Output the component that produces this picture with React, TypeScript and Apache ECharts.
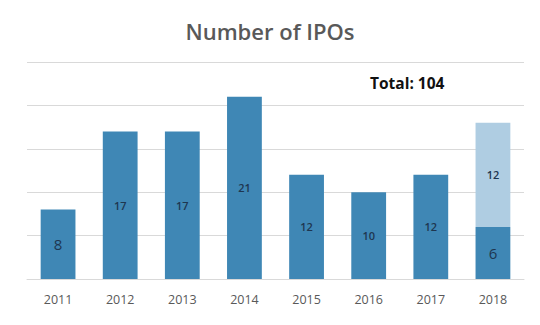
import React, { useEffect, useRef } from "react";
import * as echarts from "echarts";

const years = ["2011", "2012", "2013", "2014", "2015", "2016", "2017", "2018"];
const baseValues = [8, 17, 17, 21, 12, 10, 12, 6];
const extraValues = [null, null, null, null, null, null, null, 12];
const largeLabelYears = ["2011", "2018"];
const totalText = "Total: 104";

export default function App() {
  const ref = useRef<HTMLDivElement>(null);
  useEffect(() => {
    if (!ref.current) return;
    const chart = echarts.init(ref.current, null, { renderer: "svg" });
    const font = "'Open Sans', 'Noto Sans', sans-serif";
    chart.setOption({
      animation: false,
      backgroundColor: "#ffffff",
      title: {
        text: "Number of IPOs",
        left: "center",
        top: 15,
        textStyle: { fontFamily: font, fontSize: 22, fontWeight: 600, color: "#595959" },
      },
      graphic: [
        {
          type: "text",
          left: 370,
          top: 75,
          style: { text: totalText, fontFamily: font, fontSize: 15.5, fontWeight: "bold", fill: "#111111" },
        },
      ],
      grid: { left: 27, right: 16, top: 62, bottom: 46 },
      xAxis: {
        type: "category",
        data: years,
        axisLine: { lineStyle: { color: "#d9d9d9" } },
        axisTick: { show: false },
        axisLabel: { fontFamily: font, fontSize: 12.5, color: "#595959", margin: 14 },
      },
      yAxis: {
        type: "value",
        min: 0,
        max: 25,
        interval: 5,
        axisLabel: { show: false },
        axisLine: { show: false },
        axisTick: { show: false },
        splitLine: { lineStyle: { color: "#d9d9d9" } },
      },
      series: [
        {
          type: "bar",
          stack: "ipo",
          barWidth: "56%",
          data: baseValues.map((v, i) => ({
            value: v,
            label: largeLabelYears.includes(years[i])
              ? { fontSize: 15, fontWeight: "normal" }
              : { fontSize: 11, fontWeight: 600 },
          })),
          itemStyle: { color: "#3f87b5" },
          label: { show: true, position: "inside", color: "#1e3650", fontFamily: font },
        },
        {
          type: "bar",
          stack: "ipo",
          barWidth: "56%",
          data: extraValues,
          itemStyle: { color: "#afcde2" },
          label: { show: true, position: "inside", color: "#1e3650", fontFamily: font, fontSize: 11, fontWeight: 600 },
        },
      ],
    });
    return () => chart.dispose();
  }, []);
  return <div ref={ref} style={{ width: 540, height: 325, position: "absolute", left: 0, top: 0 }} />;
}
